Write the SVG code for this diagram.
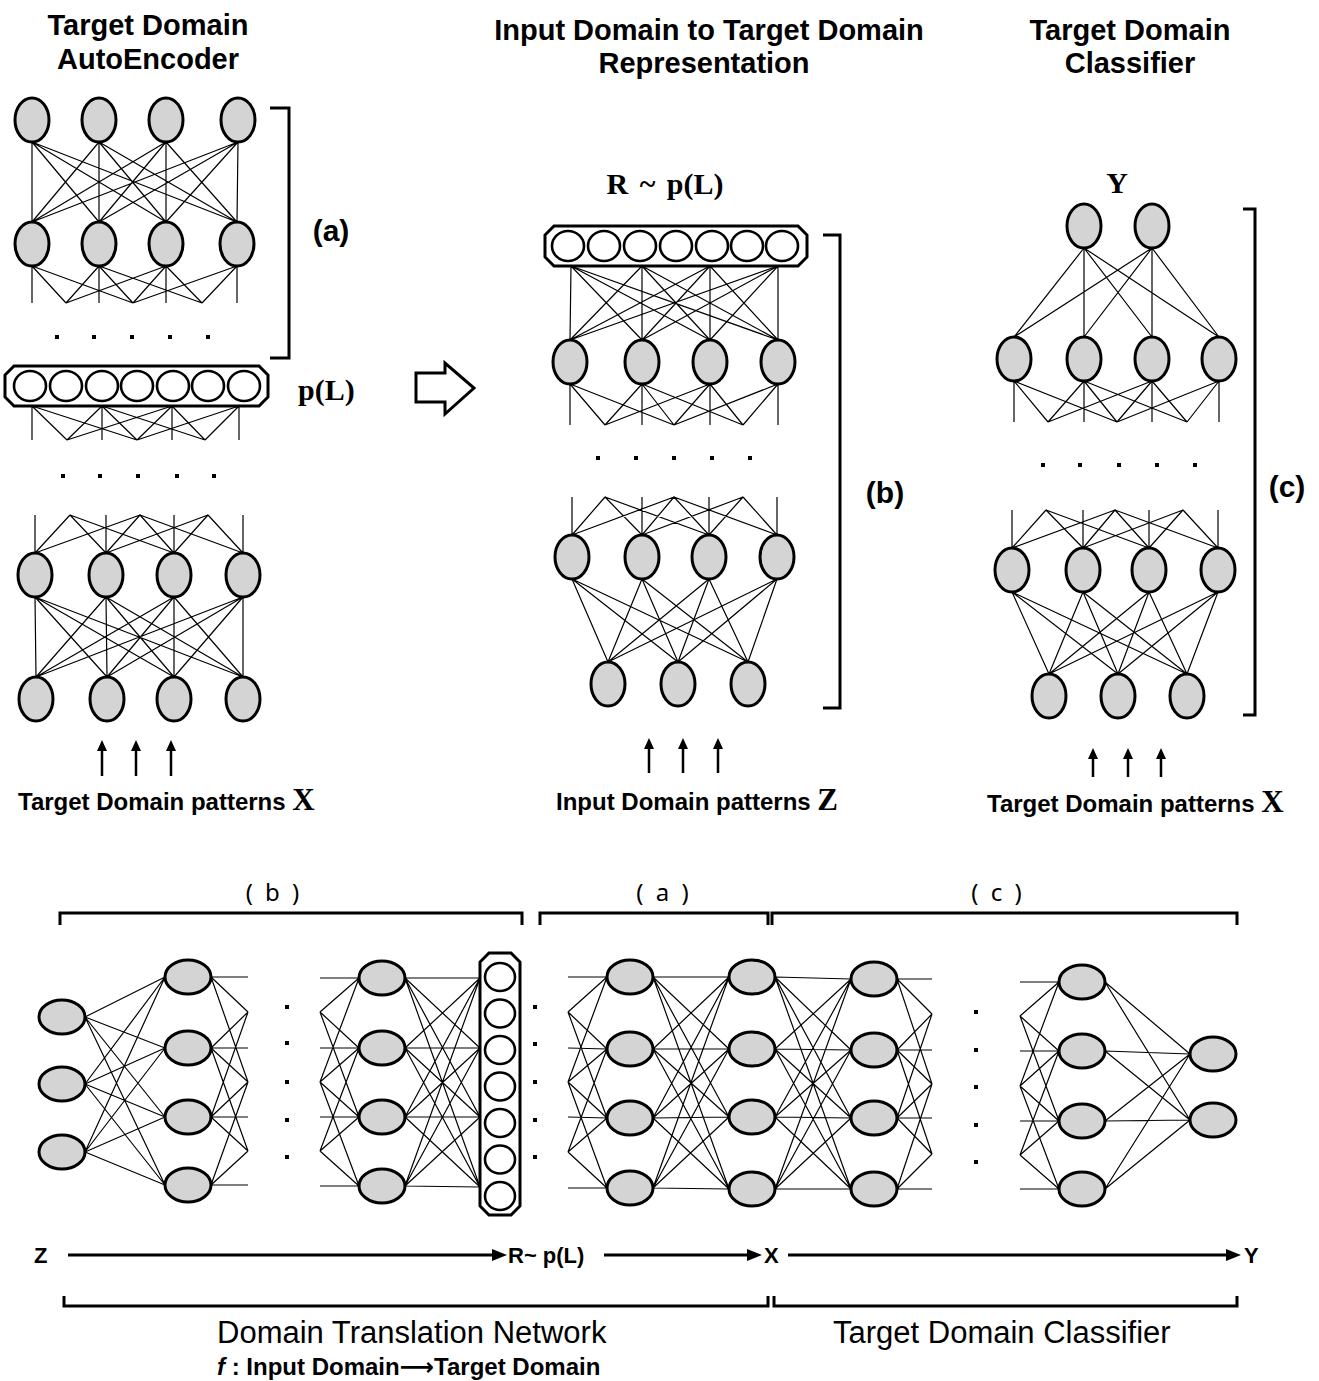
<svg xmlns="http://www.w3.org/2000/svg" width="1319" height="1381" viewBox="0 0 1319 1381">
<style>
  .n{fill:#d4d4d4;stroke:#000;stroke-width:3}
  .c{fill:#fff;stroke:#000;stroke-width:2.6}
  .bar{fill:#fff;stroke:#000;stroke-width:3}
  .e{fill:none;stroke:#000;stroke-width:1.2}
  .br{fill:none;stroke:#000;stroke-width:3}
  .stem{stroke:#000;stroke-width:2.5}
  .thick{stroke:#000;stroke-width:3}
  .h{font:bold 29px "Liberation Sans",Arial,sans-serif;text-anchor:middle;fill:#000}
  .lab{font:bold 30px "Liberation Sans",Arial,sans-serif;text-anchor:middle;fill:#000}
  .pat{font:bold 24px "Liberation Sans",Arial,sans-serif;fill:#000}
  .ser{font-family:"Liberation Serif","Times New Roman",serif;font-weight:bold;font-size:31px}
  .ml{font:bold 30px "Liberation Serif","Times New Roman",serif;fill:#000}
  .sub{font:24px "Noto Sans","Liberation Sans",sans-serif;text-anchor:middle;letter-spacing:3px;fill:#000}
  .fl{font:bold 22px "Liberation Sans",Arial,sans-serif;fill:#000}
  .big{font:31px "Liberation Sans",Arial,sans-serif;fill:#000}
  .f2{font:bold 24px "Liberation Sans",Arial,sans-serif;fill:#000}
</style>
<rect width="1319" height="1381" fill="#fff"/>

<!-- headings -->
<text class="h" x="148" y="35">Target Domain</text>
<text class="h" x="148" y="69">AutoEncoder</text>
<text class="h" x="709" y="40">Input Domain to Target Domain</text>
<text class="h" x="704" y="73">Representation</text>
<text class="h" x="1130" y="40">Target Domain</text>
<text class="h" x="1130" y="73">Classifier</text>

<!-- connectors -->
<g id="connectors">
  <!-- autoencoder (a) -->
  <path class="e" d="M32 142L32 222M32 142L99 222M32 142L166 222M32 142L237 222M99 142L32 222M99 142L99 222M99 142L166 222M99 142L237 222M166 142L32 222M166 142L99 222M166 142L166 222M166 142L237 222M238 142L32 222M238 142L99 222M238 142L166 222M238 142L237 222"/>
  <path class="e" d="M32 266L32 303M32 266L66 303M32 266L133 303M99 266L66 303M99 266L99 303M99 266L133 303M99 266L202 303M166 266L66 303M166 266L133 303M166 266L166 303M166 266L202 303M237 266L133 303M237 266L202 303M237 266L237 303"/>
  <path class="e" d="M32 406L32 440M32 406L67 440M32 406L137 440M102 406L67 440M102 406L102 440M102 406L137 440M102 406L205 440M172 406L67 440M172 406L137 440M172 406L172 440M172 406L205 440M239 406L137 440M239 406L205 440M239 406L239 440"/>
  <path class="e" d="M35 515L35 553M70 515L35 553M140 515L35 553M70 515L106 553M106 515L106 553M140 515L106 553M208 515L106 553M70 515L174 553M140 515L174 553M174 515L174 553M208 515L174 553M140 515L243 553M208 515L243 553M243 515L243 553"/>
  <path class="e" d="M35 597L36 677M35 597L107 677M35 597L174 677M35 597L243 677M106 597L36 677M106 597L107 677M106 597L174 677M106 597L243 677M174 597L36 677M174 597L107 677M174 597L174 677M174 597L243 677M243 597L36 677M243 597L107 677M243 597L174 677M243 597L243 677"/>
  <!-- translation network (b) -->
  <path class="e" d="M571 266L570 340M571 266L642 340M571 266L710 340M571 266L778 340M642 266L570 340M642 266L642 340M642 266L710 340M642 266L778 340M710 266L570 340M710 266L642 340M710 266L710 340M710 266L778 340M778 266L570 340M778 266L642 340M778 266L710 340M778 266L778 340"/>
  <path class="e" d="M570 384L570 425M570 384L605 425M570 384L674 425M642 384L605 425M642 384L642 425M642 384L674 425M642 384L743 425M710 384L605 425M710 384L674 425M710 384L710 425M710 384L743 425M778 384L674 425M778 384L743 425M778 384L778 425"/>
  <path class="e" d="M572 497L572 535M605 497L572 535M674 497L572 535M605 497L642 535M642 497L642 535M674 497L642 535M743 497L642 535M605 497L709 535M674 497L709 535M709 497L709 535M743 497L709 535M674 497L777 535M743 497L777 535M777 497L777 535"/>
  <path class="e" d="M572 579L608 662M572 579L678 662M572 579L748 662M642 579L608 662M642 579L678 662M642 579L748 662M709 579L608 662M709 579L678 662M709 579L748 662M777 579L608 662M777 579L678 662M777 579L748 662"/>
  <!-- classifier (c) -->
  <path class="e" d="M1084 248L1014 337M1084 248L1084 337M1084 248L1152 337M1084 248L1219 337M1152 248L1014 337M1152 248L1084 337M1152 248L1152 337M1152 248L1219 337"/>
  <path class="e" d="M1014 381L1014 422M1014 381L1048 422M1014 381L1117 422M1084 381L1048 422M1084 381L1084 422M1084 381L1117 422M1084 381L1187 422M1152 381L1048 422M1152 381L1117 422M1152 381L1152 422M1152 381L1187 422M1219 381L1117 422M1219 381L1187 422M1219 381L1219 422"/>
  <path class="e" d="M1012 510L1012 548M1046 510L1012 548M1115 510L1012 548M1046 510L1083 548M1083 510L1083 548M1115 510L1083 548M1183 510L1083 548M1046 510L1149 548M1115 510L1149 548M1149 510L1149 548M1183 510L1149 548M1115 510L1218 548M1183 510L1218 548M1218 510L1218 548"/>
  <path class="e" d="M1012 592L1049 674M1012 592L1118 674M1012 592L1187 674M1083 592L1049 674M1083 592L1118 674M1083 592L1187 674M1149 592L1049 674M1149 592L1118 674M1149 592L1187 674M1218 592L1049 674M1218 592L1118 674M1218 592L1187 674"/>
  <!-- combined network -->
  <path class="e" d="M85 1017L165 977M85 1017L165 1048M85 1017L165 1117M85 1017L165 1185M85 1084L165 977M85 1084L165 1048M85 1084L165 1117M85 1084L165 1185M85 1152L165 977M85 1152L165 1048M85 1152L165 1117M85 1152L165 1185"/>
  <path class="e" d="M211 977L248 977M211 977L248 1012M211 977L248 1082M211 1048L248 1012M211 1048L248 1048M211 1048L248 1082M211 1048L248 1151M211 1117L248 1012M211 1117L248 1082M211 1117L248 1117M211 1117L248 1151M211 1185L248 1082M211 1185L248 1151M211 1185L248 1185"/>
  <path class="e" d="M320 978L359 978M320 1012L359 978M320 1082L359 978M320 1012L359 1048M320 1048L359 1048M320 1082L359 1048M320 1151L359 1048M320 1012L359 1117M320 1082L359 1117M320 1117L359 1117M320 1151L359 1117M320 1082L359 1186M320 1151L359 1186M320 1186L359 1186"/>
  <path class="e" d="M405 978L480 978M405 978L480 1048M405 978L480 1117M405 978L480 1187M405 1048L480 978M405 1048L480 1048M405 1048L480 1117M405 1048L480 1187M405 1117L480 978M405 1117L480 1048M405 1117L480 1117M405 1117L480 1187M405 1186L480 978M405 1186L480 1048M405 1186L480 1117M405 1186L480 1187"/>
  <path class="e" d="M568 977L607 977M568 1012L607 977M568 1082L607 977M568 1012L607 1049M568 1048L607 1049M568 1082L607 1049M568 1152L607 1049M568 1012L607 1118M568 1082L607 1118M568 1117L607 1118M568 1152L607 1118M568 1082L607 1188M568 1152L607 1188M568 1188L607 1188"/>
  <path class="e" d="M653 977L729 977M653 977L729 1049M653 977L729 1117M653 977L729 1189M653 1049L729 977M653 1049L729 1049M653 1049L729 1117M653 1049L729 1189M653 1118L729 977M653 1118L729 1049M653 1118L729 1117M653 1118L729 1189M653 1188L729 977M653 1188L729 1049M653 1188L729 1117M653 1188L729 1189"/>
  <path class="e" d="M775 977L851 979M775 977L851 1050M775 977L851 1118M775 977L851 1189M775 1049L851 979M775 1049L851 1050M775 1049L851 1118M775 1049L851 1189M775 1117L851 979M775 1117L851 1050M775 1117L851 1118M775 1117L851 1189M775 1189L851 979M775 1189L851 1050M775 1189L851 1118M775 1189L851 1189"/>
  <path class="e" d="M897 979L932 979M897 979L932 1014M897 979L932 1084M897 1050L932 1014M897 1050L932 1050M897 1050L932 1084M897 1050L932 1154M897 1118L932 1014M897 1118L932 1084M897 1118L932 1118M897 1118L932 1154M897 1189L932 1084M897 1189L932 1154M897 1189L932 1189"/>
  <path class="e" d="M1020 982L1059 982M1020 1016L1059 982M1020 1086L1059 982M1020 1016L1059 1051M1020 1051L1059 1051M1020 1086L1059 1051M1020 1155L1059 1051M1020 1016L1059 1121M1020 1086L1059 1121M1020 1121L1059 1121M1020 1155L1059 1121M1020 1086L1059 1189M1020 1155L1059 1189M1020 1189L1059 1189"/>
  <path class="e" d="M1105 982L1190 1054M1105 982L1190 1120M1105 1051L1190 1054M1105 1051L1190 1120M1105 1121L1190 1054M1105 1121L1190 1120M1105 1189L1190 1054M1105 1189L1190 1120"/>

  <!-- input arrows -->
  <path class="stem" d="M102 776V749M136 776V749M171 776V749M649 773V747M683 773V747M718 773V747M1093 777V757M1128 777V757M1161 777V757"/>
  <path d="M97 751L102 740L107 751ZM131 751L136 740L141 751ZM166 751L171 740L176 751ZM644 749L649 738L654 749ZM678 749L683 738L688 749ZM713 749L718 738L723 749ZM1088 759L1093 748L1098 759ZM1123 759L1128 748L1133 759ZM1156 759L1161 748L1166 759Z" fill="#000"/>

  <!-- flow arrows Z -> R -> X -> Y -->
  <path class="thick" d="M68 1255H495M604 1255H750M788 1255H1229"/>
  <path d="M492 1249L507 1255L492 1261ZM747 1249L762 1255L747 1261ZM1226 1249L1241 1255L1226 1261Z" fill="#000"/>
</g>

<!-- layer dots -->
<g fill="#000">
  <rect x="55" y="335" width="4" height="4"/><rect x="92" y="335" width="4" height="4"/><rect x="130" y="335" width="4" height="4"/><rect x="168" y="335" width="4" height="4"/><rect x="206" y="335" width="4" height="4"/>
  <rect x="61" y="474" width="4" height="4"/><rect x="98" y="474" width="4" height="4"/><rect x="136" y="474" width="4" height="4"/><rect x="175" y="474" width="4" height="4"/><rect x="212" y="474" width="4" height="4"/>
  <rect x="596" y="456" width="4" height="4"/><rect x="634" y="456" width="4" height="4"/><rect x="672" y="456" width="4" height="4"/><rect x="710" y="456" width="4" height="4"/><rect x="748" y="456" width="4" height="4"/>
  <rect x="1041" y="463" width="4" height="4"/><rect x="1078" y="463" width="4" height="4"/><rect x="1117" y="463" width="4" height="4"/><rect x="1155" y="463" width="4" height="4"/><rect x="1193" y="463" width="4" height="4"/>
  <rect x="285" y="1005" width="4" height="4"/><rect x="285" y="1041" width="4" height="4"/><rect x="285" y="1080" width="4" height="4"/><rect x="285" y="1118" width="4" height="4"/><rect x="285" y="1155" width="4" height="4"/>
  <rect x="533" y="1005" width="4" height="4"/><rect x="533" y="1042" width="4" height="4"/><rect x="533" y="1080" width="4" height="4"/><rect x="533" y="1118" width="4" height="4"/><rect x="533" y="1155" width="4" height="4"/>
  <rect x="974" y="1010" width="4" height="4"/><rect x="974" y="1048" width="4" height="4"/><rect x="974" y="1085" width="4" height="4"/><rect x="974" y="1123" width="4" height="4"/><rect x="974" y="1160" width="4" height="4"/>
</g>

<!-- autoencoder nodes -->
<g id="ae-a1"><ellipse class="n" cx="32" cy="120" rx="17" ry="22"/></g>
<g id="ae-a2"><ellipse class="n" cx="99" cy="120" rx="17" ry="22"/></g>
<g id="ae-a3"><ellipse class="n" cx="166" cy="120" rx="17" ry="22"/></g>
<g id="ae-a4"><ellipse class="n" cx="238" cy="120" rx="17" ry="22"/></g>
<g id="ae-b1"><ellipse class="n" cx="32" cy="244" rx="17" ry="22"/></g>
<g id="ae-b2"><ellipse class="n" cx="99" cy="244" rx="17" ry="22"/></g>
<g id="ae-b3"><ellipse class="n" cx="166" cy="244" rx="17" ry="22"/></g>
<g id="ae-b4"><ellipse class="n" cx="237" cy="244" rx="17" ry="22"/></g>
<g id="ae-code">
  <polygon class="bar" points="14,366 259,366 268,375 268,397 259,406 14,406 5,397 5,375"/>
  <ellipse class="c" cx="30" cy="386" rx="16" ry="15"/><ellipse class="c" cx="66" cy="386" rx="16" ry="15"/><ellipse class="c" cx="102" cy="386" rx="16" ry="15"/><ellipse class="c" cx="137" cy="386" rx="16" ry="15"/><ellipse class="c" cx="173" cy="386" rx="16" ry="15"/><ellipse class="c" cx="208" cy="386" rx="16" ry="15"/><ellipse class="c" cx="244" cy="386" rx="16" ry="15"/>
</g>
<g id="ae-c1"><ellipse class="n" cx="35" cy="575" rx="17" ry="22"/></g>
<g id="ae-c2"><ellipse class="n" cx="106" cy="575" rx="17" ry="22"/></g>
<g id="ae-c3"><ellipse class="n" cx="174" cy="575" rx="17" ry="22"/></g>
<g id="ae-c4"><ellipse class="n" cx="243" cy="575" rx="17" ry="22"/></g>
<g id="ae-d1"><ellipse class="n" cx="36" cy="699" rx="17" ry="22"/></g>
<g id="ae-d2"><ellipse class="n" cx="107" cy="699" rx="17" ry="22"/></g>
<g id="ae-d3"><ellipse class="n" cx="174" cy="699" rx="17" ry="22"/></g>
<g id="ae-d4"><ellipse class="n" cx="243" cy="699" rx="17" ry="22"/></g>

<path class="br" d="M270 108H289V358H270"/>
<text class="lab" x="331" y="241">(a)</text>
<text class="ml" x="298" y="400">p(L)</text>
<text class="pat" x="18" y="810">Target Domain patterns <tspan class="ser">X</tspan></text>

<!-- arrow between columns -->
<polygon points="416,373 445,373 445,363 474,388 445,414 445,402 416,402" fill="#fff" stroke="#000" stroke-width="3" stroke-linejoin="miter"/>

<!-- translation network nodes -->
<text class="ml" x="665" y="194" text-anchor="middle" word-spacing="4">R ~ p(L)</text>
<g id="tn-code">
  <polygon class="bar" points="554,226 798,226 807,235 807,257 798,266 554,266 545,257 545,235"/>
  <ellipse class="c" cx="568" cy="246" rx="16" ry="15"/><ellipse class="c" cx="604" cy="246" rx="16" ry="15"/><ellipse class="c" cx="640" cy="246" rx="16" ry="15"/><ellipse class="c" cx="676" cy="246" rx="16" ry="15"/><ellipse class="c" cx="712" cy="246" rx="16" ry="15"/><ellipse class="c" cx="747" cy="246" rx="16" ry="15"/><ellipse class="c" cx="782" cy="246" rx="16" ry="15"/>
</g>
<g id="tn-a1"><ellipse class="n" cx="570" cy="362" rx="17" ry="22"/></g>
<g id="tn-a2"><ellipse class="n" cx="642" cy="362" rx="17" ry="22"/></g>
<g id="tn-a3"><ellipse class="n" cx="710" cy="362" rx="17" ry="22"/></g>
<g id="tn-a4"><ellipse class="n" cx="778" cy="362" rx="17" ry="22"/></g>
<g id="tn-b1"><ellipse class="n" cx="572" cy="557" rx="17" ry="22"/></g>
<g id="tn-b2"><ellipse class="n" cx="642" cy="557" rx="17" ry="22"/></g>
<g id="tn-b3"><ellipse class="n" cx="709" cy="557" rx="17" ry="22"/></g>
<g id="tn-b4"><ellipse class="n" cx="777" cy="557" rx="17" ry="22"/></g>
<g id="tn-in1"><ellipse class="n" cx="608" cy="684" rx="17" ry="22"/></g>
<g id="tn-in2"><ellipse class="n" cx="678" cy="684" rx="17" ry="22"/></g>
<g id="tn-in3"><ellipse class="n" cx="748" cy="684" rx="17" ry="22"/></g>
<path class="br" d="M823 235H840V708H823"/>
<text class="lab" x="885" y="503">(b)</text>
<text class="pat" x="556" y="810">Input Domain patterns <tspan class="ser">Z</tspan></text>

<!-- classifier nodes -->
<text class="ml" x="1117" y="193" text-anchor="middle">Y</text>
<g id="cl-y1"><ellipse class="n" cx="1084" cy="226" rx="17" ry="22"/></g>
<g id="cl-y2"><ellipse class="n" cx="1152" cy="226" rx="17" ry="22"/></g>
<g id="cl-a1"><ellipse class="n" cx="1014" cy="359" rx="17" ry="22"/></g>
<g id="cl-a2"><ellipse class="n" cx="1084" cy="359" rx="17" ry="22"/></g>
<g id="cl-a3"><ellipse class="n" cx="1152" cy="359" rx="17" ry="22"/></g>
<g id="cl-a4"><ellipse class="n" cx="1219" cy="359" rx="17" ry="22"/></g>
<g id="cl-b1"><ellipse class="n" cx="1012" cy="570" rx="17" ry="22"/></g>
<g id="cl-b2"><ellipse class="n" cx="1083" cy="570" rx="17" ry="22"/></g>
<g id="cl-b3"><ellipse class="n" cx="1149" cy="570" rx="17" ry="22"/></g>
<g id="cl-b4"><ellipse class="n" cx="1218" cy="570" rx="17" ry="22"/></g>
<g id="cl-in1"><ellipse class="n" cx="1049" cy="696" rx="17" ry="22"/></g>
<g id="cl-in2"><ellipse class="n" cx="1118" cy="696" rx="17" ry="22"/></g>
<g id="cl-in3"><ellipse class="n" cx="1187" cy="696" rx="17" ry="22"/></g>
<path class="br" d="M1243 209H1255V715H1243"/>
<text class="lab" x="1287" y="497">(c)</text>
<text class="pat" x="987" y="812">Target Domain patterns <tspan class="ser">X</tspan></text>

<!-- combined network -->
<path class="br" d="M60 925V913H522V925M540 925V913H768V925M772 925V913H1237V925"/>
<text class="sub" x="274" y="901">( b )</text>
<text class="sub" x="664" y="901">( a )</text>
<text class="sub" x="998" y="901">( c )</text>

<g id="cn-z1"><ellipse class="n" cx="62" cy="1017" rx="23" ry="17"/></g>
<g id="cn-z2"><ellipse class="n" cx="62" cy="1084" rx="23" ry="17"/></g>
<g id="cn-z3"><ellipse class="n" cx="62" cy="1152" rx="23" ry="17"/></g>
<g id="cn-h1"><ellipse class="n" cx="188" cy="977" rx="23" ry="17"/></g>
<g id="cn-h2"><ellipse class="n" cx="188" cy="1048" rx="23" ry="17"/></g>
<g id="cn-h3"><ellipse class="n" cx="188" cy="1117" rx="23" ry="17"/></g>
<g id="cn-h4"><ellipse class="n" cx="188" cy="1185" rx="23" ry="17"/></g>
<g id="cn-g1"><ellipse class="n" cx="382" cy="978" rx="23" ry="17"/></g>
<g id="cn-g2"><ellipse class="n" cx="382" cy="1048" rx="23" ry="17"/></g>
<g id="cn-g3"><ellipse class="n" cx="382" cy="1117" rx="23" ry="17"/></g>
<g id="cn-g4"><ellipse class="n" cx="382" cy="1186" rx="23" ry="17"/></g>
<g id="cn-code">
  <polygon class="bar" points="489,953 511,953 520,962 520,1206 511,1215 489,1215 480,1206 480,962"/>
  <ellipse class="c" cx="500" cy="977" rx="15" ry="14"/><ellipse class="c" cx="500" cy="1013.5" rx="15" ry="14"/><ellipse class="c" cx="500" cy="1050" rx="15" ry="14"/><ellipse class="c" cx="500" cy="1086.5" rx="15" ry="14"/><ellipse class="c" cx="500" cy="1123" rx="15" ry="14"/><ellipse class="c" cx="500" cy="1159.5" rx="15" ry="14"/><ellipse class="c" cx="500" cy="1196" rx="15" ry="14"/>
</g>
<g id="cn-p1"><ellipse class="n" cx="630" cy="977" rx="23" ry="17"/></g>
<g id="cn-p2"><ellipse class="n" cx="630" cy="1049" rx="23" ry="17"/></g>
<g id="cn-p3"><ellipse class="n" cx="630" cy="1118" rx="23" ry="17"/></g>
<g id="cn-p4"><ellipse class="n" cx="630" cy="1188" rx="23" ry="17"/></g>
<g id="cn-x1"><ellipse class="n" cx="752" cy="977" rx="23" ry="17"/></g>
<g id="cn-x2"><ellipse class="n" cx="752" cy="1049" rx="23" ry="17"/></g>
<g id="cn-x3"><ellipse class="n" cx="752" cy="1117" rx="23" ry="17"/></g>
<g id="cn-x4"><ellipse class="n" cx="752" cy="1189" rx="23" ry="17"/></g>
<g id="cn-k1"><ellipse class="n" cx="874" cy="979" rx="23" ry="17"/></g>
<g id="cn-k2"><ellipse class="n" cx="874" cy="1050" rx="23" ry="17"/></g>
<g id="cn-k3"><ellipse class="n" cx="874" cy="1118" rx="23" ry="17"/></g>
<g id="cn-k4"><ellipse class="n" cx="874" cy="1189" rx="23" ry="17"/></g>
<g id="cn-m1"><ellipse class="n" cx="1082" cy="982" rx="23" ry="17"/></g>
<g id="cn-m2"><ellipse class="n" cx="1082" cy="1051" rx="23" ry="17"/></g>
<g id="cn-m3"><ellipse class="n" cx="1082" cy="1121" rx="23" ry="17"/></g>
<g id="cn-m4"><ellipse class="n" cx="1082" cy="1189" rx="23" ry="17"/></g>
<g id="cn-y1"><ellipse class="n" cx="1213" cy="1054" rx="23" ry="17"/></g>
<g id="cn-y2"><ellipse class="n" cx="1213" cy="1120" rx="23" ry="17"/></g>

<!-- flow labels -->
<text class="fl" x="34" y="1263">Z</text>
<text class="fl" x="508" y="1263">R~ p(L)</text>
<text class="fl" x="764" y="1263">X</text>
<text class="fl" x="1244" y="1263">Y</text>
<path class="br" d="M64 1296V1306H768V1296M774 1296V1306H1237V1296"/>
<text class="big" x="217" y="1343">Domain Translation Network</text>
<text class="big" x="833" y="1343">Target Domain Classifier</text>
<text class="f2" x="217" y="1375"><tspan font-style="italic">f</tspan> : Input Domain<tspan font-family="DejaVu Sans" font-weight="bold">⟶</tspan>Target Domain</text>
</svg>
